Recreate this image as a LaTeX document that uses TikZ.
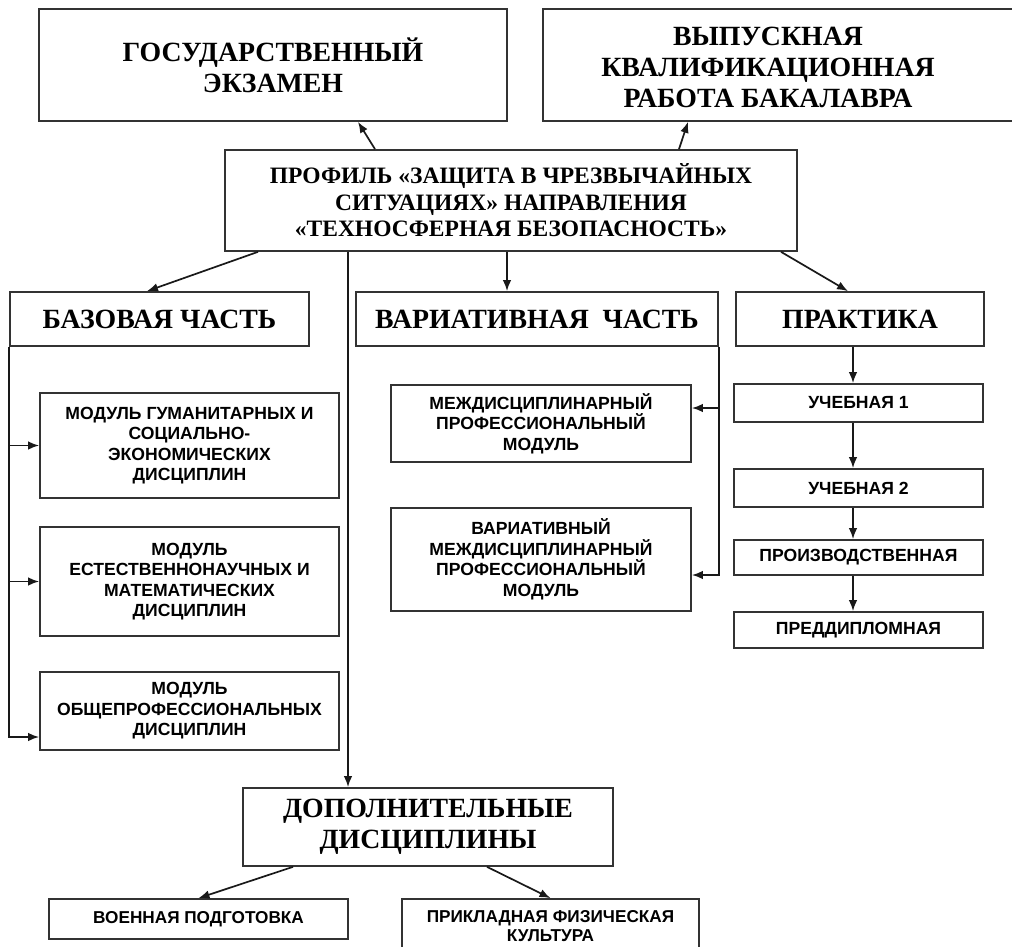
\documentclass[tikz,border=0pt]{standalone}
\usepackage{fontspec}
\setmainfont{Liberation Serif}
\newfontfamily\sansf{Liberation Sans}
\usetikzlibrary{arrows.meta}
\begin{document}
\begin{tikzpicture}[x=1pt,y=-1pt,
  box/.style={draw=black!80, line width=1.7pt, inner sep=0pt, align=center, fill=white},
  ttl/.style={font=\bfseries\fontsize{27.8}{31}\selectfont},
  prf/.style={font=\bfseries\fontsize{23.5}{26.5}\selectfont},
  sml/.style={font=\sansf\bfseries\fontsize{17.6}{20.5}\selectfont},
  smb/.style={font=\sansf\bfseries\fontsize{17.2}{19}\selectfont},
  conn/.style={draw=black!90, line width=1.7pt},
  arr/.style={conn, -{Latex[length=11pt,width=8.5pt]}}]
\useasboundingbox (0,0) rectangle (1012,947);
\clip (0,0) rectangle (1012,947);
\fill[white] (0,0) rectangle (1012,947);

% top
\node[box,ttl,minimum width=468pt,minimum height=112pt] (gos) at (273,65) {ГОСУДАРСТВЕННЫЙ\\ЭКЗАМЕН};
\node[box,minimum width=482pt,minimum height=112pt] (vkr) at (784,65) {};
\node[ttl,align=center,inner sep=0pt] (vkrt) at (768,67) {ВЫПУСКНАЯ\\КВАЛИФИКАЦИОННАЯ\\РАБОТА БАКАЛАВРА};
\node[box,prf,minimum width=572pt,minimum height=101pt] (prof) at (511,200.5) {ПРОФИЛЬ «ЗАЩИТА В ЧРЕЗВЫЧАЙНЫХ\\СИТУАЦИЯХ» НАПРАВЛЕНИЯ\\«ТЕХНОСФЕРНАЯ БЕЗОПАСНОСТЬ»};

% second row
\node[box,ttl,minimum width=299pt,minimum height=54pt] (baza) at (159.5,319) {БАЗОВАЯ ЧАСТЬ};
\node[box,ttl,minimum width=362pt,minimum height=54pt] (var) at (537,319) {ВАРИАТИВНАЯ\ \ ЧАСТЬ};
\node[box,ttl,minimum width=248pt,minimum height=54pt] (prak) at (860,319) {ПРАКТИКА};

% basic modules
\node[box,sml,minimum width=299pt,minimum height=105pt] (m1) at (189.5,445.5) {МОДУЛЬ ГУМАНИТАРНЫХ И\\СОЦИАЛЬНО-\\ЭКОНОМИЧЕСКИХ\\ДИСЦИПЛИН};
\node[box,sml,minimum width=299pt,minimum height=109pt] (m2) at (189.5,581.5) {МОДУЛЬ\\ЕСТЕСТВЕННОНАУЧНЫХ И\\МАТЕМАТИЧЕСКИХ\\ДИСЦИПЛИН};
\node[box,sml,minimum width=299pt,minimum height=78pt] (m3) at (189.5,711) {МОДУЛЬ\\ОБЩЕПРОФЕССИОНАЛЬНЫХ\\ДИСЦИПЛИН};

% variative modules
\node[box,sml,minimum width=300pt,minimum height=77pt] (mp1) at (541,423.5) {МЕЖДИСЦИПЛИНАРНЫЙ\\ПРОФЕССИОНАЛЬНЫЙ\\МОДУЛЬ};
\node[box,sml,minimum width=300pt,minimum height=103pt] (mp2) at (541,559.5) {ВАРИАТИВНЫЙ\\МЕЖДИСЦИПЛИНАРНЫЙ\\ПРОФЕССИОНАЛЬНЫЙ\\МОДУЛЬ};

% practice
\node[box,sml,minimum width=249pt,minimum height=38pt] (u1) at (858.5,403) {УЧЕБНАЯ 1};
\node[box,sml,minimum width=249pt,minimum height=38pt] (u2) at (858.5,488) {УЧЕБНАЯ 2};
\node[box,sml,minimum width=249pt,minimum height=35pt] (pr) at (858.5,557.5) {ПРОИЗВОДСТВЕННАЯ};
\node[box,sml,minimum width=249pt,minimum height=36pt] (pd) at (858.5,630) {ПРЕДДИПЛОМНАЯ};

% additional
\node[box,ttl,minimum width=370pt,minimum height=78pt] (dop) at (428,827) {ДОПОЛНИТЕЛЬНЫЕ\\ДИСЦИПЛИНЫ};
\node[box,smb,minimum width=299pt,minimum height=40pt] (voen) at (198.5,919) {ВОЕННАЯ ПОДГОТОВКА};
\node[box,smb,minimum width=297pt,minimum height=55pt] (prik) at (550.5,926.5) {ПРИКЛАДНАЯ ФИЗИЧЕСКАЯ\\КУЛЬТУРА};

% connectors from profile
\draw[arr] ([xshift=-136pt]prof.north) -- ([xshift=85pt]gos.south);
\draw[arr] ([xshift=168pt]prof.north) -- ([xshift=-96pt]vkr.south);
\draw[arr] ([xshift=-253pt]prof.south) -- ([xshift=-12.5pt]baza.north);
\draw[arr] ([xshift=-4pt]prof.south) -- ([xshift=-30pt]var.north);
\draw[arr] ([xshift=270pt]prof.south) -- ([xshift=-12pt]prak.north);
\draw[arr] ([xshift=-163pt]prof.south) -- ([xshift=-80pt]dop.north);

% basic part bus
\draw[arr] (baza.south west) |- ([yshift=-26pt]m3.west);
\draw[arr] (baza.west |- m1.west) -- (m1.west);
\draw[arr] (baza.west |- m2.west) -- (m2.west);

% variative bus
\draw[arr] (var.south east) |- ([yshift=-15.5pt]mp2.east);
\draw[arr] ([yshift=15.5pt]mp1.east -| var.east) -- ([yshift=15.5pt]mp1.east);

% practice chain
\coordinate (ax) at (853,0);
\draw[arr] (prak.south -| ax) -- (u1.north -| ax);
\draw[arr] (u1.south -| ax) -- (u2.north -| ax);
\draw[arr] (u2.south -| ax) -- (pr.north -| ax);
\draw[arr] (pr.south -| ax) -- (pd.north -| ax);

% additional
\draw[arr] ([xshift=-135pt]dop.south) -- (voen.north);
\draw[arr] ([xshift=59pt]dop.south) -- (prik.north);
\end{tikzpicture}
\end{document}
